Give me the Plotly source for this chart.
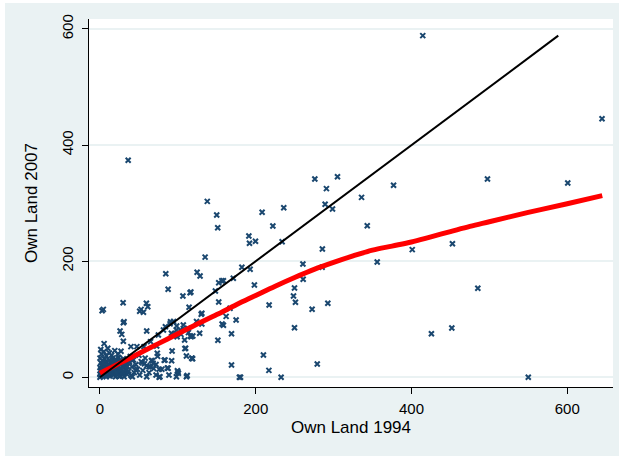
import plotly.graph_objects as go

# ---- data (Own Land 1994 vs Own Land 2007) ----
cluster_pts = [
    (0,0),(1,2),(0,5),(2,9),(1,13),(0,17),(2,21),(1,25),(3,29),(0,33),(4,3),(5,7),(3,11),(6,15),(4,19),
    (5,23),(7,27),(6,31),(8,1),(9,5),(7,10),(10,13),(8,18),(11,22),(9,26),(12,30),(13,2),(11,7),(14,11),
    (12,16),(15,20),(13,25),(16,33),(17,4),(15,9),(18,14),(16,24),(19,28),(20,1),(18,7),(21,12),(19,18),
    (22,22),(20,31),(23,5),(24,10),(22,16),(25,26),(24,34),(26,2),(27,8),(25,14),(28,19),(26,29),(29,4),
    (30,11),(28,24),(31,17),(30,32),(32,7),(33,22),(31,1),(34,13),(33,28),(35,5),(35,19),(3,6),(6,4),
    (10,9),(14,6),(17,12),(21,8),(23,19),(27,13),(9,20),(12,12),(7,16),(4,24),(16,28),(20,25),(2,3),
    (5,11),(8,8),(11,3),(13,18),(18,22),(22,28),(24,2),(29,9),(32,25),
    (37,11),(38,26),(40,3),(41,18),(43,30),(44,8),(46,22),(48,14),(50,38),(51,4),(53,27),(55,12),(58,33),
    (60,20),(63,8),(66,29),(69,15),(72,4),(74,36),(39,36),
    (2,40),(5,44),(8,37),(12,42),(15,38),(19,46),(23,40),(27,45),(1,48),(10,50),
]
mid_pts = [
    (2.7,114.7),(4.3,117),(29.7,128.5),(52.8,117),(55.8,112),(59.6,127.5),(61.4,121.6),(51,113.7),(30,94),
    (60,79.8),(25.8,79.8),(28,74),(30,62),(5.3,58),(41,30),(57,23.4),(65,18),(72,22),(76,14),(60,1),(76,0),
    (86.5,16),(100,9.6),(111,1),(112,3),(92.6,45.3),(110,50),(111,36.7),(119,32),(73.6,41.3),(83.5,29.8),
    (92,28.6),(108.7,64.2),(116,71.1),(98,81.5),(67.3,28.6),(79.4,13.8),(87.5,15.5),(99.4,11.4),(62.9,18.3),
    (54.3,25.2),(77,1),(88.6,4),(100.7,6.9),(98.1,1),(41.5,1),(45.8,12.6),(90,92),(94.5,96),(98.5,88.4),
    (103,81.5),(107,90),(95.6,74),(99,70),(104,74),(113.6,77),(117,70),(91.7,75.8),(108.5,82.7),(112.6,84.4),
    (124,96),(84,87),(81.5,81.5),(75,72.9),(72.8,54),(65,61.4),(56.6,52.8),(47.4,52.8),(39.7,52.8),(30.9,95.8),
    (90.6,95.8),(114.4,120.6),(130,108.5),(128,76),(87.5,151.6),(84.5,178.5),(106.5,140),(116.7,147),
    (124.7,180.9),(128.5,174.5),(109,49.4),(118,32.7),(82.5,29.3),(68.2,24.1),
]
large_pts = [
    (115.7,145.7),(119.2,71.1),(117.9,32.7),(130.8,110.2),(130.8,91.8),(135,207),(137.8,303),(149.9,279.6),
    (151.2,257.7),(148.2,148.7),(151.4,63.7),(152.5,163),(156.5,166.4),(158.5,166.4),(152.5,129.7),
    (156.8,91.8),(158.5,89.6),(162,105),(167,118.9),(168.9,75.1),(168.9,21.2),(171.2,170.5),(174.8,98.7),
    (179,0),(180.5,0),(182.2,189.5),(191.2,243.4),(192,230.8),(192.8,186),(198.3,159),(199.7,234.3),
    (208.2,284.2),(209.9,38.4),(216.9,12),(217.2,124.5),(222,260.6),(232.6,0),(233.9,233.6),(236,292),
    (248.5,140),(249.8,153.8),(249.8,85.4),(251,129.2),(260.6,195.2),(260.9,168.8),(272.4,117.1),
    (275.9,341.6),(279,22.9),(285.6,221),(285.3,189.5),(289.1,298),(290.8,325),(292.6,127.5),(298.6,290),
    (305,345.6),(335.9,310),(343.2,261.2),(356,198.6),(377,330.7),(401,220),(414.5,588.5),(425.6,75.1),
    (451.8,84.9),(452.6,230.2),(485.2,153.3),(497.6,341.6),(550,0),(600.7,334.7),(644.7,445.5),(36.2,373.8),
]
all_pts = cluster_pts + mid_pts + large_pts
land_1994 = [p[0] for p in all_pts]
land_2007 = [p[1] for p in all_pts]

# lowess smooth (red)
lowess_x = [0, 25, 50, 75, 100, 125, 150, 175, 200, 225, 250, 275, 300, 325, 350, 375, 400, 425, 450, 475, 500, 550, 600, 645]
lowess_y = [7, 24, 41, 58, 75, 92, 108, 125, 141, 157, 172, 186, 198, 209, 219, 226, 233, 242, 251, 260, 268, 284, 299, 313]

# 45-degree reference line
diag_x = [0, 588.5]
diag_y = [0, 588.5]

x_ticks = [0, 200, 400, 600]
y_ticks = [0, 200, 400, 600]

BG = "#EAF2F3"
NAVY = "#1A476F"

fig = go.Figure()
fig.add_trace(go.Scatter(
    x=land_1994, y=land_2007, mode="markers",
    marker=dict(symbol="x-thin", size=5, color=NAVY, line=dict(color=NAVY, width=2)),
    showlegend=False, hoverinfo="skip"))
fig.add_trace(go.Scatter(
    x=lowess_x, y=lowess_y, mode="lines", line=dict(color="#FF0000", width=5, shape="spline"),
    showlegend=False, hoverinfo="skip"))
fig.add_trace(go.Scatter(
    x=diag_x, y=diag_y, mode="lines", line=dict(color="#000000", width=2),
    showlegend=False, hoverinfo="skip"))

L, R, T, B = 89, 9, 19, 69
W, H = 622, 456
pw, ph = W - L - R, H - T - B

def px2paper_x(px):
    return (px - L) / pw

def px2paper_y(py):
    return (H - B - py) / ph

fig.add_shape(type="rect", xref="paper", yref="paper",
              x0=px2paper_x(5), x1=px2paper_x(619), y0=px2paper_y(H + 2), y1=px2paper_y(3),
              fillcolor=BG, line=dict(width=0), layer="below")
fig.add_shape(type="rect", xref="paper", yref="paper",
              x0=0, x1=1, y0=0, y1=1, fillcolor="white", line=dict(width=0), layer="below")

font_family = "Liberation Sans, Arial, sans-serif"
fig.update_layout(
    width=W, height=H,
    margin=dict(l=L, r=R, t=T, b=B),
    paper_bgcolor="white", plot_bgcolor="white",
    font=dict(family=font_family, color="#000000", size=15),
    xaxis=dict(
        range=[-14.1, 658.8], tickvals=x_ticks, ticktext=[str(v) for v in x_ticks],
        showgrid=False, zeroline=False, showline=True, linecolor="#000000", linewidth=1,
        ticks="outside", ticklen=6, tickcolor="#000000", tickwidth=1,
        tickfont=dict(size=15), ticklabelstandoff=2,
        title=dict(text="Own Land 1994", font=dict(size=17), standoff=5),
    ),
    yaxis=dict(
        range=[-16.7, 617.2], tickvals=y_ticks, ticktext=[str(v) for v in y_ticks],
        showgrid=True, gridcolor=BG, gridwidth=1.5, zeroline=False,
        showline=True, linecolor="#000000", linewidth=1,
        ticks="outside", ticklen=6, tickcolor="#000000", tickwidth=1,
        tickangle=-90, tickfont=dict(size=15), ticklabelstandoff=3,
        title=dict(text="Own Land 2007", font=dict(size=17), standoff=17),
    ),
)

fig.write_html("out.html")
